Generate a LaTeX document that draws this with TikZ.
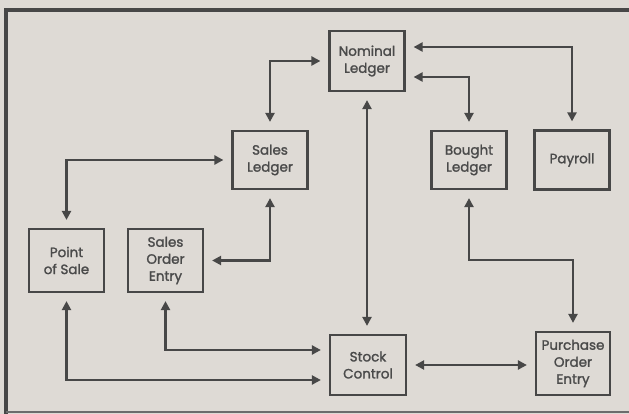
\documentclass[tikz,border=0pt]{standalone}
\usepackage{fontspec}
\setmainfont{Poppins}[BoldFont={Poppins},BoldFeatures={FakeBold=1.6}]
\usetikzlibrary{arrows.meta}
\definecolor{bg}{HTML}{DEDAD5}
\definecolor{ink}{HTML}{474747}
\definecolor{txt}{HTML}{4A4A4A}
\begin{document}
\begin{tikzpicture}[x=1pt,y=-1pt,
  box/.style={draw=ink,line width=2.2pt,fill=bg,text=txt,align=center,
    font=\fontsize{13.5}{17}\selectfont\bfseries,inner sep=0pt,
    minimum width=75pt,minimum height=60pt},
  conn/.style={draw=ink,line width=2.3pt,
    {Triangle[length=9pt,width=9pt]}-{Triangle[length=9pt,width=9pt]},
    shorten <=8pt,shorten >=8pt}]
\fill[bg] (0,0) rectangle (629,414);
\useasboundingbox (0,0) rectangle (629,414);
\draw[ink,line width=4.5pt] (6,414) -- (6,10) -- (629,10);
\draw[ink!80,line width=1.5pt] (6,412) -- (629,412);

\node[box] (nl) at (367,61) {Nominal\\Ledger};
\node[box,minimum height=58pt] (sl) at (270,160) {Sales\\Ledger};
\node[box,minimum height=58pt] (bl) at (469,160) {Bought\\Ledger};
\node[box,minimum height=59pt] (pay) at (572,160) {Payroll};
\node[box,minimum height=63pt] (pos) at (66.5,260.5) {Point\\of Sale};
\node[box,minimum height=63pt] (soe) at (165.5,260.5) {Sales\\Order\\Entry};
\node[box,minimum width=76pt] (sc) at (368,365) {Stock\\Control};
\node[box,minimum width=74pt,minimum height=63pt] (poe) at (573,363.5) {Purchase\\Order\\Entry};

\draw[conn] ([yshift=14pt]nl.east) -| (pay.north);
\draw[conn] ([yshift=-16pt]nl.east) -| (bl.north);
\draw[conn] (sl.north) |- (nl.west);
\draw[conn] (nl.south) -- (nl.south |- sc.north);
\draw[conn] (sl.west) -| (pos.north);
\draw[conn] (sl.south) |- (soe.east);
\draw[conn] (bl.south) -- ([yshift=-100pt]bl.center) -| (poe.north);
\draw[conn] (soe.south) |- ([yshift=15pt]sc.west);
\draw[conn] (pos.south) |- ([yshift=-15pt]sc.west);
\draw[conn] (sc.east) -- (sc.east -| poe.west);
\end{tikzpicture}
\end{document}
